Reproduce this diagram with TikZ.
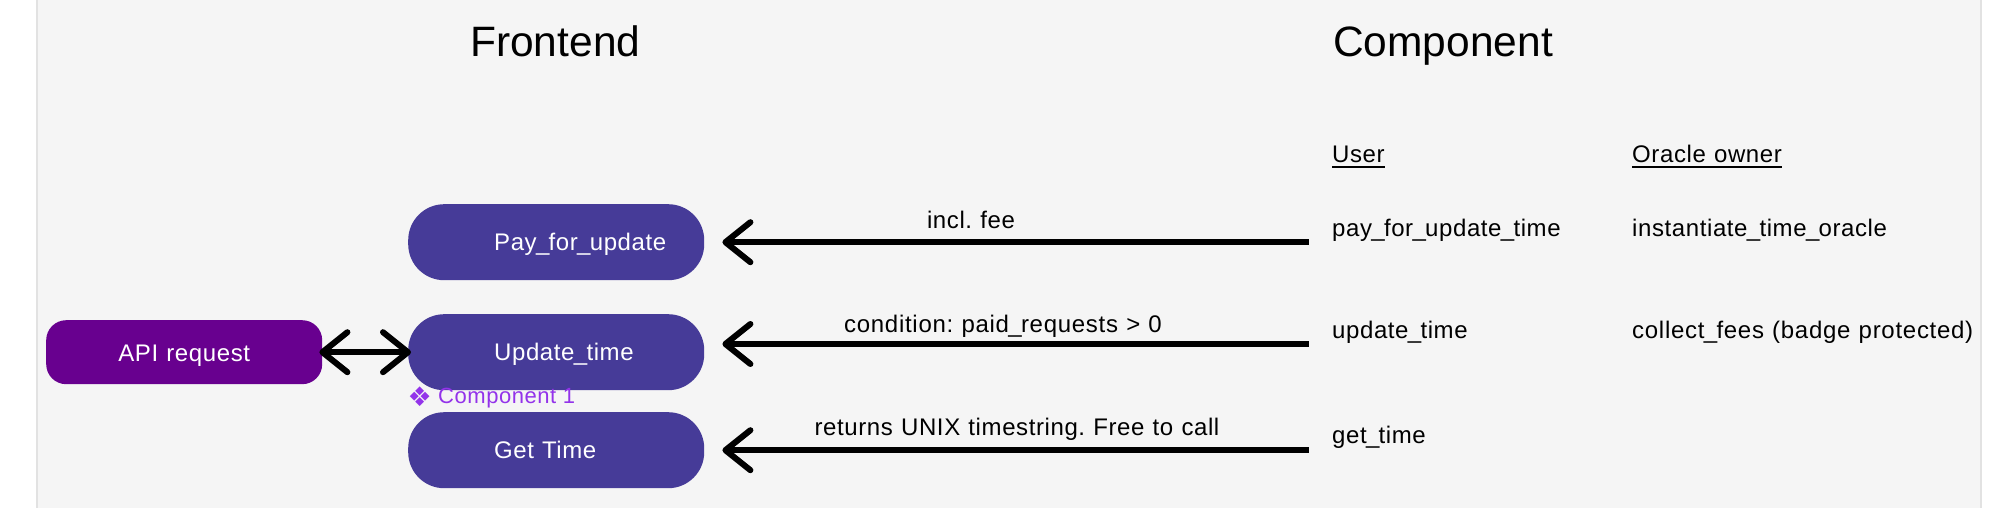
\documentclass[tikz,border=0pt]{standalone}
\usepackage{fontspec}
\setmainfont{Liberation Sans}
\newfontfamily\symfont{DejaVu Sans}
\newfontfamily\bodyfont[LetterSpace=2.5]{Liberation Sans}
\newfontfamily\widefont[LetterSpace=3.0]{Liberation Sans}
\usetikzlibrary{arrows.meta}
\definecolor{panelbg}{HTML}{F5F5F5}
\definecolor{panelrule}{HTML}{E2E2E2}
\definecolor{pillblue}{HTML}{463B98}
\definecolor{apipurple}{HTML}{68008F}
\definecolor{compviolet}{HTML}{9333EA}
\newcommand{\bodysize}{\bodyfont\frenchspacing\fontsize{24}{28}\selectfont\spaceskip=8.2pt\relax}
\newcommand{\widesize}{\widefont\frenchspacing\fontsize{24}{28}\selectfont\spaceskip=8.2pt\relax}
\newcommand{\us}{\kern-0.7pt\_\kern-0.7pt}
\tikzset{
  x=1pt,y=-1pt,
  pill/.style={fill=pillblue,text=white,rounded corners=36pt,minimum width=296pt,text width=296pt,minimum height=76pt,inner xsep=0pt,inner ysep=0pt,align=left,font=\bodysize,anchor=north west,text height=21pt,text depth=4pt},
  apibox/.style={fill=apipurple,text=white,rounded corners=20pt,minimum width=276pt,minimum height=64pt,inner sep=0pt,font=\bodysize,anchor=north west,text height=22pt,text depth=4pt},
  title/.style={font=\fontsize{42.5}{48}\selectfont,anchor=west,inner sep=0pt,text height=29pt,text depth=0pt},
  fn/.style={font=\bodysize,anchor=west,inner sep=0pt,text height=16pt,text depth=5pt},
  lbl/.style={font=\bodysize,anchor=center,inner sep=0pt,text height=16pt,text depth=5pt},
  arr/.style={line width=6pt,{Straight Barb[round,length=25pt,width=40pt,line width=6pt]}-,black,line cap=butt},
  dbl/.style={line width=6pt,{Straight Barb[round,length=25pt,width=40pt,line width=6pt]}-{Straight Barb[round,length=25pt,width=40pt,line width=6pt]},black,shorten <=-3pt,shorten >=-3pt},
}
\begin{document}
\begin{tikzpicture}
\path[use as bounding box,fill=white] (0,0) rectangle (2014,508);
\fill[panelbg] (37,0) rectangle (1981,508);
\fill[panelrule] (36,0) rectangle (38,508);
\fill[panelrule] (1980,0) rectangle (1982,508);

\node[title] (tFront) at (470,42) {Frontend};
\node[title] (tComp) at (1333,42) {Component};

\node[fn] (hUser) at (1332,157) {User};
\node[fn] (hOwner) at (1632,157) {Oracle owner};
\draw[line width=1.6pt] (hUser.west |- 0,167) -- (hUser.east |- 0,167);
\draw[line width=1.6pt] (hOwner.west |- 0,167) -- (hOwner.east |- 0,167);

\node[pill] (pPay) at (408,204) {\hspace*{86pt}Pay\us for\us update};
\node[pill] (pUpd) at (408,314) {\hspace*{86pt}Update\us time};
\node[pill] (pGet) at (408,412) {\hspace*{86pt}Get Time};
\node[apibox] (api) at (46,320) {API request};

\node[fn] (fPay) at (1332,231) {pay\us for\us update\us time};
\node[fn] (fUpd) at (1332,333) {update\us time};
\node[fn] (fGet) at (1332,438) {get\us time};
\node[fn] (fInst) at (1632,231) {instantiate\us time\us oracle};
\node[fn,font=\widesize] (fColl) at (1632,333) {collect\us fees (badge protected)};

\node[font=\bodyfont\fontsize{22}{26}\selectfont,text=compviolet,anchor=west,inner sep=0pt] (comp) at (438,398) {Component 1};
\node[font=\symfont\fontsize{27}{30}\selectfont,text=compviolet,anchor=east,inner sep=0pt] (compicon) at (432,397) {❖};

\draw[arr,shorten <=18pt,shorten >=23pt] (pPay.east) -- (pPay.east -| fPay.west);
\draw[arr,shorten <=18pt,shorten >=23pt] (pUpd.east |- 0,344) -- (fUpd.west |- 0,344);
\draw[arr,shorten <=18pt,shorten >=23pt] (pGet.east) -- (pGet.east -| fGet.west);
\draw[dbl] (api.east) -- (pUpd.west);

\node[lbl] (lFee) at (971,223) {incl. fee};
\node[lbl,font=\widesize] (lCond) at (1003,327) {condition: paid\us requests > 0};
\node[lbl] (lRet) at (1017,430) {returns UNIX timestring. Free to call};
\end{tikzpicture}
\end{document}
